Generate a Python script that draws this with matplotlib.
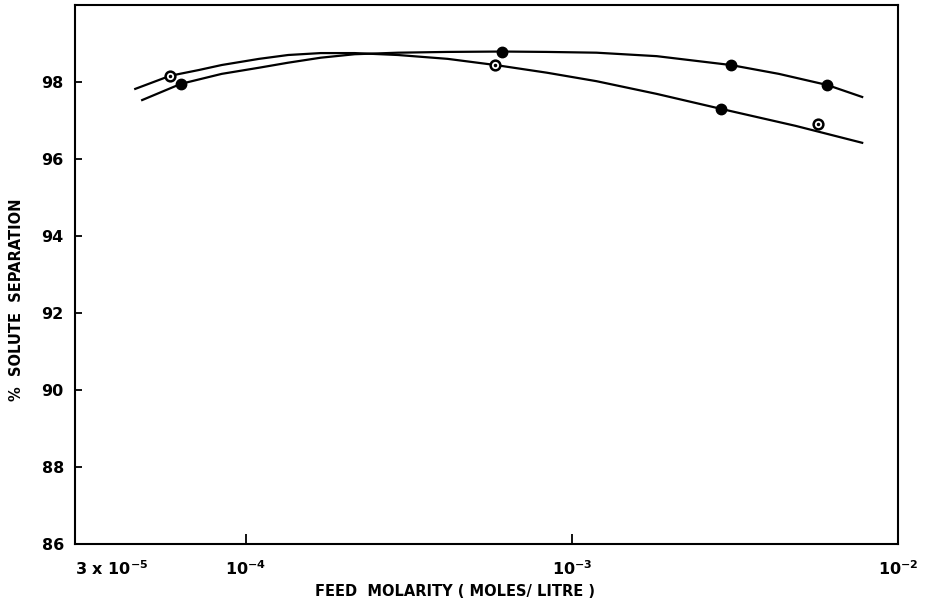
"""Solute separation vs feed molarity, two membranes (redrawn)."""

import matplotlib
matplotlib.use('Agg')
import matplotlib.pyplot as plt

# smooth curves
curve1_x = [4.59e-5, 5.87e-5, 7.19e-5, 8.45e-5, 1.10e-4, 1.35e-4, 1.70e-4, 2.16e-4, 2.93e-4,
            4.16e-4, 5.83e-4, 8.39e-4, 1.19e-3, 1.82e-3, 2.87e-3, 4.85e-3, 7.76e-3]
curve1_y = [97.82, 98.16, 98.31, 98.44, 98.60, 98.70, 98.75, 98.75, 98.70,
            98.60, 98.44, 98.24, 98.02, 97.69, 97.30, 96.86, 96.42]

curve2_x = [4.82e-5, 6.33e-5, 8.45e-5, 1.10e-4, 1.35e-4, 1.70e-4, 2.16e-4, 2.93e-4, 4.16e-4,
            6.12e-4, 8.39e-4, 1.19e-3, 1.82e-3, 3.07e-3, 4.31e-3, 6.07e-3, 7.76e-3]
curve2_y = [97.53, 97.95, 98.21, 98.37, 98.50, 98.63, 98.72, 98.76, 98.78,
            98.79, 98.78, 98.76, 98.67, 98.44, 98.21, 97.92, 97.61]

# measured points
filled_x = [6.33e-5, 6.12e-4, 3.07e-3, 6.07e-3, 2.87e-3]
filled_y = [97.95, 98.79, 98.44, 97.92, 97.30]
open_x = [5.87e-5, 5.83e-4, 5.70e-3]
open_y = [98.16, 98.44, 96.91]

y_ticks = [86, 88, 90, 92, 94, 96, 98]
x_ticks = [3e-5, 1e-4, 1e-3, 1e-2]
x_ticklabels = ['3 x 10$^{-5}$', '10$^{-4}$', '10$^{-3}$', '10$^{-2}$']

plt.rcParams['font.family'] = 'DejaVu Sans'
plt.rcParams['font.weight'] = 'bold'
plt.rcParams['mathtext.default'] = 'bf'

fig = plt.figure(figsize=(9.28, 6.03), dpi=100)
ax = fig.add_axes([0.0808, 0.0978, 0.887, 0.894])

ax.plot(curve1_x, curve1_y, color='black', lw=1.6, solid_joinstyle='round')
ax.plot(curve2_x, curve2_y, color='black', lw=1.6, solid_joinstyle='round')

ax.plot(filled_x, filled_y, 'o', color='black', ms=7.5, zorder=3)
ax.plot(open_x, open_y, 'o', mfc='white', mec='black', mew=1.8, ms=7, zorder=3)
ax.plot(open_x, open_y, '.', color='black', ms=3, zorder=4)

ax.set_xscale('log')
ax.set_xlim(3e-5, 1e-2)
ax.set_ylim(86, 100)

ax.set_xticks(x_ticks)
ax.set_xticklabels(x_ticklabels, fontsize=11.5, fontweight='bold')
ax.xaxis.set_minor_locator(matplotlib.ticker.NullLocator())
ax.get_xticklabels()[0].set_horizontalalignment('left')
ax.tick_params(axis='x', direction='in', length=7, width=1.3, pad=11)

ax.set_yticks(y_ticks)
ax.set_yticklabels([str(t) for t in y_ticks], fontsize=11.5, fontweight='bold')
ax.tick_params(axis='y', direction='in', length=5, width=1.3, pad=8)

for s in ax.spines.values():
    s.set_linewidth(1.5)

ax.set_xlabel('FEED  MOLARITY ( MOLES/ LITRE )', fontsize=10.5, fontweight='bold', labelpad=2)
ax.xaxis.set_label_coords(0.462, -0.075)
ax.set_ylabel('%  SOLUTE  SEPARATION', fontsize=10.5, fontweight='bold')
ax.yaxis.set_label_coords(-0.062, 0.453)

fig.savefig('out.png', dpi=100)
